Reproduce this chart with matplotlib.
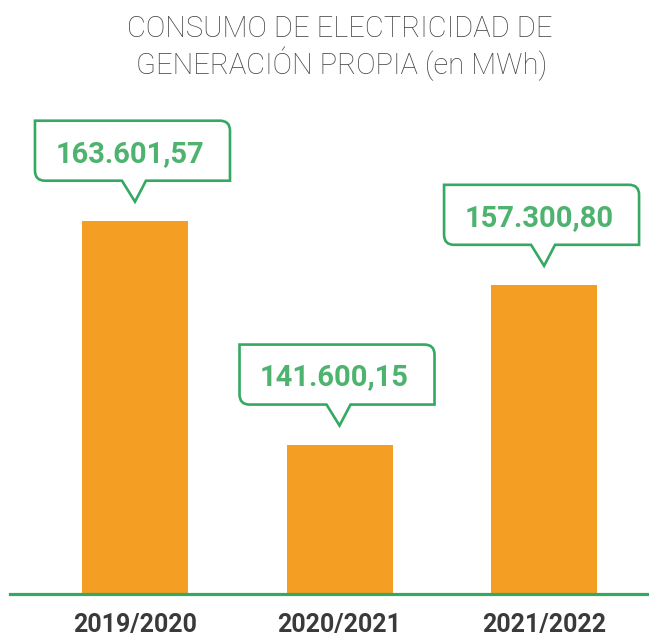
import matplotlib
matplotlib.use("Agg")
import matplotlib.pyplot as plt
import matplotlib.transforms as mtransforms
from matplotlib.path import Path
from matplotlib.patches import PathPatch

# Data
periods = ["2019/2020", "2020/2021", "2021/2022"]
consumption_mwh = [163601.57, 141600.15, 157300.80]
value_labels = ["163.601,57", "141.600,15", "157.300,80"]
title_lines = ["CONSUMO DE ELECTRICIDAD DE", "GENERACIÓN PROPIA (en MWh)"]

ORANGE = "#F49F23"
GREEN_LINE = "#35A862"
GREEN_TEXT = "#4DB36E"
GREY_TITLE = "#444444"
GREY_TICK = "#3A3A3A"

W, H = 649, 636
fig = plt.figure(figsize=(W / 100, H / 100), dpi=100)
fig.patch.set_facecolor("white")

base_px, top_px = 594, 90
ax = fig.add_axes([10 / W, (H - base_px) / H, 639 / W, (base_px - top_px) / H])
ax.set_facecolor("white")

x = list(range(len(periods)))
ax.bar(x, consumption_mwh, width=0.518, color=ORANGE, zorder=2)
ax.set_xlim(-0.611, 2.513)
ax.set_ylim(126914, 176447)

for side in ("top", "right", "left"):
    ax.spines[side].set_visible(False)
ax.spines["bottom"].set_color(GREEN_LINE)
ax.spines["bottom"].set_linewidth(2.3)
ax.spines["bottom"].set_zorder(3)
ax.set_yticks([])
ax.set_xticks(x)
ax.set_xticklabels(periods, fontsize=18, fontweight="bold", color=GREY_TICK,
                   family=["Roboto", "DejaVu Sans"])
ax.tick_params(axis="x", length=0, pad=14)


def callout_path(L=-100, R=95, B=21, T=81, xl=-13, xr=11, r=10):
    verts = [(L, T), (R - r, T), (R, T), (R, T - r), (R, B), (xr, B), (0, 0),
             (xl, B), (L + r, B), (L, B), (L, B + r), (L, T), (L, T)]
    codes = [Path.MOVETO, Path.LINETO, Path.CURVE3, Path.CURVE3, Path.LINETO,
             Path.LINETO, Path.LINETO, Path.LINETO, Path.LINETO, Path.CURVE3,
             Path.CURVE3, Path.LINETO, Path.CLOSEPOLY]
    return Path(verts, codes)


gap = 19  # pixels between the callout tip and the bar top
for xi, val, lab in zip(x, consumption_mwh, value_labels):
    anchor = mtransforms.Affine2D().translate(0, gap) + \
        mtransforms.ScaledTranslation(xi, val, ax.transData)
    patch = PathPatch(callout_path(), facecolor="white", edgecolor=GREEN_LINE,
                      linewidth=1.9, transform=anchor, clip_on=False, zorder=4,
                      joinstyle="miter")
    ax.add_patch(patch)
    ax.text(-5, 40, lab, transform=anchor, ha="center", va="baseline",
            fontsize=21, fontweight="bold", color=GREEN_TEXT,
            family=["Roboto", "DejaVu Sans"], zorder=5, clip_on=False)

fig.text(340 / W, 1 - 37 / H, title_lines[0], ha="center", va="baseline",
         fontsize=21, fontweight="light", color=GREY_TITLE,
         family=["Roboto", "DejaVu Sans"])
fig.text(342 / W, 1 - 74 / H, title_lines[1], ha="center", va="baseline",
         fontsize=21, fontweight="light", color=GREY_TITLE,
         family=["Roboto", "DejaVu Sans"])

fig.savefig("out.png", dpi=100, facecolor="white")
